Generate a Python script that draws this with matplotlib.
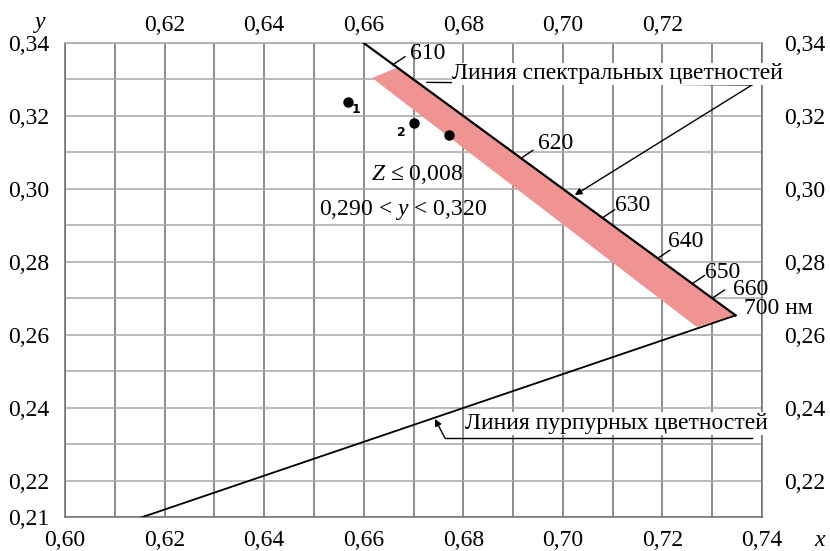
import matplotlib
matplotlib.use('Agg')
import matplotlib.pyplot as plt
from matplotlib.ticker import MultipleLocator

plt.rcParams['font.family'] = ['Liberation Serif', 'DejaVu Serif']
plt.rcParams['mathtext.fontset'] = 'custom'
plt.rcParams['mathtext.rm'] = 'Liberation Serif'
plt.rcParams['mathtext.it'] = 'Liberation Serif:italic'

# axis ticks
x_ticks = [0.60, 0.62, 0.64, 0.66, 0.68, 0.70, 0.72, 0.74]
x_labels = ['0,60', '0,62', '0,64', '0,66', '0,68', '0,70', '0,72', '0,74']
top_ticks = [0.62, 0.64, 0.66, 0.68, 0.70, 0.72]
top_labels = ['0,62', '0,64', '0,66', '0,68', '0,70', '0,72']
y_ticks = [0.21, 0.22, 0.24, 0.26, 0.28, 0.30, 0.32, 0.34]
y_labels = ['0,21', '0,22', '0,24', '0,26', '0,28', '0,30', '0,32', '0,34']
right_ticks = [0.22, 0.24, 0.26, 0.28, 0.30, 0.32, 0.34]
right_labels = ['0,22', '0,24', '0,26', '0,28', '0,30', '0,32', '0,34']

# spectral locus (straight piece) and purple line
spec_x = [0.660, 0.7347]
spec_y = [0.340, 0.2653]
purple_x = [0.7347, 0.1741]
purple_y = [0.2653, 0.0050]

# wavelength marks on the spectral locus
wl_labels = ['610', '620', '630', '640', '650', '660']
wl_x = [0.6658, 0.6915, 0.7079, 0.7190, 0.7260, 0.7300]
wl_y = [0.3340, 0.3083, 0.2920, 0.2809, 0.2740, 0.2700]
wl_offsets = [(25, 8), (25, 11), (22, 9), (20, 12), (22, 8), (28, 6)]

# tolerance band
band_x = [0.6617, 0.6670, 0.7347, 0.7269]
band_y = [0.3304, 0.3334, 0.2653, 0.2621]

# measured points
pts_x = [0.6568, 0.6701, 0.6771]
pts_y = [0.3238, 0.3181, 0.3148]
pts_labels = ['1', '2', '']
pts_offsets = [(6, -5), (-9, -7), (0, 0)]

fs = 17

fig = plt.figure(figsize=(8.3, 5.51), dpi=100)
ax = fig.add_axes([65 / 830, 1 - 517 / 551, 697 / 830, 474 / 551])
ax.set_xlim(0.60, 0.74)
ax.set_ylim(0.21, 0.34)

# grid
ax.xaxis.set_minor_locator(MultipleLocator(0.01))
ax.yaxis.set_minor_locator(MultipleLocator(0.01))
ax.set_xticks(x_ticks)
ax.set_xticklabels(x_labels)
ax.set_yticks(y_ticks)
ax.set_yticklabels(y_labels)
ax.grid(axis='x', which='both', color='#6e6e6e', linewidth=1.1)
ax.grid(axis='y', which='both', color='#a8a8a8', linewidth=1.1)
ax.set_axisbelow(True)
for side in ['left', 'right', 'bottom']:
    ax.spines[side].set_color('#6e6e6e')
    ax.spines[side].set_linewidth(1.1)
ax.spines['top'].set_color('#a8a8a8')
ax.spines['top'].set_linewidth(1.1)
ax.tick_params(which='both', length=0, labelsize=fs)
ax.tick_params(axis='x', pad=9)
ax.tick_params(axis='y', pad=11)

top = ax.secondary_xaxis('top')
top.set_xticks(top_ticks)
top.set_xticklabels(top_labels)
top.tick_params(length=0, labelsize=fs, pad=5)
top.spines['top'].set_visible(False)

right = ax.secondary_yaxis('right')
right.set_yticks(right_ticks)
right.set_yticklabels(right_labels)
right.tick_params(length=0, labelsize=fs, pad=16)
right.spines['right'].set_visible(False)

# band, lines
ax.fill(band_x, band_y, color='#f09393', linewidth=0, zorder=2)
ax.plot(spec_x, spec_y, color='black', linewidth=1.6, zorder=3)
ax.plot(purple_x, purple_y, color='black', linewidth=1.3, zorder=3)

for lab, x, y, off in zip(wl_labels, wl_x, wl_y, wl_offsets):
    ax.annotate('', xy=(x, y), xytext=(9, 6), textcoords='offset points',
                arrowprops=dict(arrowstyle='-', color='black', lw=1.0,
                                shrinkA=0, shrinkB=0), zorder=4)
    ax.annotate(lab, xy=(x, y), xytext=off, textcoords='offset points',
                ha='center', va='center', fontsize=fs, zorder=4)
ax.annotate('700 нм', xy=(spec_x[1], spec_y[1]), xytext=(6, 5),
            textcoords='offset points', ha='left', va='center', fontsize=fs)

# points
ax.plot(pts_x, pts_y, 'o', color='black', markersize=6.5, zorder=5)
for lab, x, y, off in zip(pts_labels, pts_x, pts_y, pts_offsets):
    if lab:
        ax.annotate(lab, xy=(x, y), xytext=off, textcoords='offset points',
                    ha='center', va='center', fontsize=9, fontweight='bold',
                    family='DejaVu Sans')

ax.text(0.6707, 0.3038, r'$Z$ ≤ 0,008', ha='center', va='center', fontsize=fs)
ax.text(0.6679, 0.2942, r'0,290 < $y$ < 0,320', ha='center', va='center',
        fontsize=fs)

# callouts
ax.text(0.6778, 0.3315, 'Линия спектральных цветностей', ha='left',
        va='center', fontsize=fs, zorder=4,
        bbox=dict(facecolor='white', edgecolor='none', pad=0.5))
ax.plot([0.6727, 0.738], [0.3292, 0.3285], color='black', linewidth=1.0)
ax.annotate('', xy=(0.7024, 0.2983), xytext=(0.738, 0.3285),
            arrowprops=dict(arrowstyle='-|>', color='black', lw=1.0,
                            mutation_scale=10, shrinkA=0, shrinkB=0))

ax.text(0.6803, 0.2357, 'Линия пурпурных цветностей', ha='left',
        va='center', fontsize=fs, zorder=4,
        bbox=dict(facecolor='white', edgecolor='none', pad=0.5))
ax.plot([0.6763, 0.738], [0.2317, 0.2317], color='black', linewidth=1.0)
ax.annotate('', xy=(0.6743, 0.2369), xytext=(0.6763, 0.2317),
            arrowprops=dict(arrowstyle='-|>', color='black', lw=1.0,
                            mutation_scale=10, shrinkA=0, shrinkB=0))

fig.text(40 / 830, 1 - 33 / 551, 'y', style='italic', fontsize=fs,
         ha='center', va='bottom')
fig.text(820 / 830, 1 - 541 / 551, 'x', style='italic', fontsize=fs,
         ha='center', va='center')

fig.savefig('out.png', dpi=100)
